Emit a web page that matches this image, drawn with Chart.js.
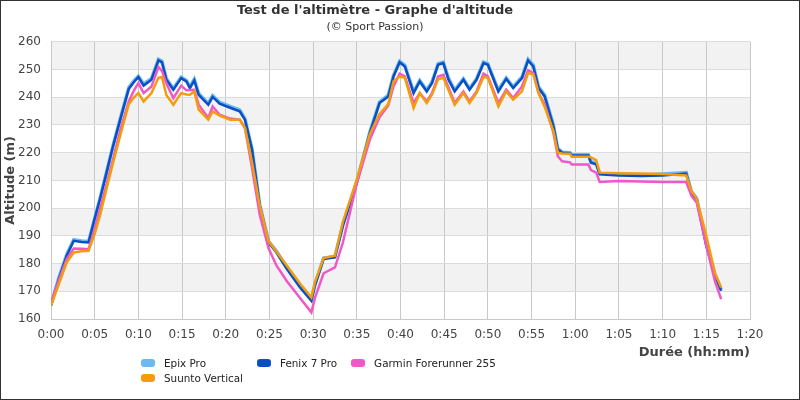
<!DOCTYPE html>
<html>
<head>
<meta charset="utf-8">
<script src="https://cdn.jsdelivr.net/npm/chart.js@4"></script>
<style>
  body { margin: 0; background: #fff; }
  #wrap { position: relative; width: 800px; height: 400px; }
  #legend {
    position: absolute; left: 141px; top: 356px;
    display: grid; grid-template-columns: repeat(3, auto); justify-content: start;
    column-gap: 14px; row-gap: 1px;
    font: 10.4px "DejaVu Sans", sans-serif; color: #222;
  }
  .item { display: flex; align-items: center; height: 14px; white-space: nowrap; }
  .box { width: 14px; height: 8px; border-radius: 3px; margin-right: 9px; }
</style>
</head>
<body>
<div id="wrap">
  <canvas id="myChart" width="800" height="400"></canvas>
  <div id="legend"></div>
</div>
<script>
// time in minutes
const times = [0, 0.9, 1.8, 2.6, 3.5, 4.3, 5.0, 5.6, 6.3, 7.1, 8.0, 8.9, 9.5, 10.0, 10.6, 11.5, 12.3, 12.7, 13.2, 14.0,
  14.9, 15.5, 15.9, 16.4, 16.9, 18.0, 18.5, 19.3, 20.5, 21.6, 22.2, 23.0, 23.9, 24.9, 25.8, 27.0, 28.5, 29.8, 30.2, 31.2,
  32.5, 33.4, 35.0, 36.5, 37.6, 38.6, 39.2, 39.9, 40.5, 41.5, 42.2, 43.0, 43.6, 44.3, 44.9, 45.5, 46.2, 47.2, 47.9, 48.7,
  49.5, 50.0, 51.2, 52.1, 52.9, 53.9, 54.6, 55.2, 55.8, 56.5, 57.5, 58.0, 58.5, 59.4, 59.6, 61.5, 61.8, 62.4, 62.8, 65.0,
  67.5, 70.0, 72.7, 73.3, 73.9, 75.0, 76.0, 76.7];

const epixPro = [165.2, 175.0, 183.3, 188.6, 188.2, 188.0, 196.3, 203.5, 212.4, 222.6, 233.2, 243.5, 246.0, 247.6, 244.8, 246.8, 253.7, 253.0, 246.8, 243.2,
  247.3, 246.1, 243.8, 246.5, 241.4, 237.8, 240.6, 238.2, 236.7, 235.4, 232.3, 221.5, 201.2, 188.0, 184.5, 178.6, 172.0, 167.0, 172.5, 182.0,
  182.6, 194.0, 209.6, 227.6, 238.3, 240.8, 247.9, 253.0, 251.5, 242.0, 246.1, 242.6, 245.5, 252.1, 252.7, 246.8, 242.6, 246.7, 243.2, 246.7,
  252.7, 252.1, 242.6, 247.0, 243.8, 247.3, 253.7, 251.6, 243.8, 240.8, 230.0, 221.6, 220.2, 220.0, 219.3, 219.3, 216.8, 216.2, 212.5, 212.2,
  212.0, 212.3, 212.8, 206.0, 203.6, 186.8, 176.0, 170.6];

const fenix7Pro = [164.8, 174.5, 182.8, 188.2, 187.8, 187.6, 196.2, 203.2, 212.0, 222.3, 232.8, 243.0, 245.5, 247.3, 244.2, 246.3, 253.3, 252.6, 246.3, 242.7,
  246.9, 245.7, 243.3, 246.1, 240.9, 237.3, 240.1, 237.7, 236.2, 234.9, 231.9, 221.2, 200.8, 187.6, 184.0, 178.0, 171.4, 166.6, 172.0, 181.6,
  182.2, 193.6, 209.2, 227.2, 237.9, 240.3, 247.5, 252.6, 251.1, 241.5, 245.7, 242.1, 245.1, 251.7, 252.3, 246.3, 242.1, 246.3, 242.7, 246.3,
  252.3, 251.7, 242.1, 246.6, 243.3, 246.9, 253.3, 251.1, 243.3, 240.3, 229.5, 221.2, 220.0, 219.8, 219.0, 219.0, 216.4, 215.8, 212.2, 211.8,
  211.6, 211.8, 212.5, 205.6, 203.2, 186.4, 175.6, 170.2];

const forerunner255 = [166.0, 174.0, 181.6, 185.4, 185.3, 185.2, 192.4, 199.6, 207.9, 217.6, 229.0, 238.5, 242.5, 245.1, 241.5, 243.9, 250.9, 249.5, 245.0, 239.7,
  244.2, 242.5, 242.6, 242.7, 237.3, 232.5, 236.7, 233.7, 232.3, 231.9, 228.9, 214.6, 197.4, 185.5, 179.3, 173.6, 167.6, 162.4, 167.5, 176.5,
  178.6, 187.5, 208.9, 224.8, 232.8, 237.0, 243.9, 248.5, 247.5, 237.9, 241.5, 238.5, 241.5, 247.5, 248.1, 243.5, 237.9, 242.1, 238.5, 242.1,
  248.5, 247.5, 237.9, 242.7, 239.7, 243.9, 249.7, 248.7, 241.5, 237.5, 227.2, 218.7, 216.9, 216.5, 215.7, 215.7, 213.7, 212.8, 209.4, 209.8,
  209.6, 209.4, 209.4, 204.4, 202.0, 186.4, 173.5, 167.2];

const suuntoVertical = [164.8, 172.6, 180.4, 184.0, 184.4, 184.6, 190.7, 197.3, 206.3, 216.3, 227.1, 237.5, 240.0, 241.5, 238.5, 241.5, 247.0, 247.3, 240.8, 237.3,
  241.5, 241.0, 240.9, 242.1, 235.5, 231.9, 234.9, 233.4, 231.9, 231.9, 228.9, 216.6, 200.8, 188.1, 184.3, 179.2, 172.8, 167.8, 173.2, 182.0,
  182.8, 195.0, 210.4, 226.8, 234.0, 237.5, 245.7, 247.5, 247.0, 236.1, 241.5, 237.9, 240.9, 246.5, 247.0, 242.5, 237.3, 241.5, 237.9, 241.5,
  247.3, 247.0, 236.7, 242.1, 239.1, 242.1, 248.7, 248.3, 241.5, 236.5, 227.8, 220.0, 219.7, 219.6, 218.5, 218.5, 218.3, 217.3, 212.8, 212.6,
  212.5, 212.3, 211.8, 206.2, 203.5, 190.0, 176.5, 171.4];

const seriesNames = ['Epix Pro', 'Fenix 7 Pro', 'Garmin Forerunner 255', 'Suunto Vertical'];
const seriesColors = ['#6cb8f2', '#0a50c2', '#f257c8', '#f29e0c'];

const yTicks = [160, 170, 180, 190, 200, 210, 220, 230, 240, 250, 260];
const bandColor = '#f2f2f2';

function toPoints(vals) {
  return times.map((t, i) => ({ x: t, y: vals[i] }));
}

// gray bands every other 10 m + frame round the canvas
const bandsPlugin = {
  id: 'bands',
  beforeDraw(chart) {
    const { ctx, chartArea: a, scales: { y } } = chart;
    ctx.save();
    ctx.fillStyle = bandColor;
    for (let i = 1; i < yTicks.length; i += 2) {
      const top = y.getPixelForValue(yTicks[i] + 10);
      const bot = y.getPixelForValue(yTicks[i]);
      ctx.fillRect(a.left, top, a.right - a.left, bot - top);
    }
    ctx.restore();
  },
  afterDraw(chart) {
    const ctx = chart.ctx;
    ctx.save();
    ctx.strokeStyle = '#333';
    ctx.lineWidth = 1;
    ctx.strokeRect(0.5, 0.5, chart.width - 1, chart.height - 1);
    ctx.restore();
  }
};

const fontFamily = '"DejaVu Sans", sans-serif';
const allData = [epixPro, fenix7Pro, forerunner255, suuntoVertical];
const drawOrder = [3, 2, 1, 0];
const widths = [3.4, 2.5, 2.5, 2.5];

const data = {
  datasets: allData.map((vals, i) => ({
    label: seriesNames[i],
    data: toPoints(vals),
    borderColor: seriesColors[i],
    backgroundColor: seriesColors[i],
    borderWidth: widths[i],
    pointRadius: 0,
    tension: 0,
    order: drawOrder[i]
  }))
};

const config = {
  type: 'line',
  data,
  options: {
    responsive: false,
    animation: false,
    layout: { padding: { left: 0, right: 50, bottom: 40 } },
    plugins: {
      legend: { display: false },
      tooltip: { enabled: false },
      title: {
        display: true,
        text: "Test de l'altimètre - Graphe d'altitude",
        color: '#333',
        font: { family: fontFamily, size: 13, weight: 'bold' },
        padding: { top: 3, bottom: 2 }
      },
      subtitle: {
        display: true,
        text: '(© Sport Passion)',
        color: '#333',
        font: { family: fontFamily, size: 11 },
        padding: { bottom: 8 }
      }
    },
    scales: {
      x: {
        type: 'linear',
        min: 0,
        max: 80,
        ticks: {
          stepSize: 5,
          color: '#444',
          font: { family: fontFamily, size: 12 },
          padding: 9,
          callback: v => Math.floor(v / 60) + ':' + String(v % 60).padStart(2, '0')
        },
        grid: { color: '#c8c8c8', drawTicks: false },
        border: { color: '#c8c8c8' },
        title: {
          display: true,
          text: 'Durée (hh:mm)',
          align: 'end',
          color: '#444',
          font: { family: fontFamily, size: 13, weight: 'bold' },
          padding: { top: -7, bottom: 0 }
        }
      },
      y: {
        min: 160,
        max: 260,
        afterFit(scale) { scale.width = 51; },
        ticks: {
          stepSize: 10,
          color: '#444',
          font: { family: fontFamily, size: 12 },
          padding: 10
        },
        grid: { color: '#dcdcdc', drawTicks: false },
        border: { color: '#c8c8c8' },
        title: {
          display: true,
          text: 'Altitude (m)',
          color: '#444',
          font: { family: fontFamily, size: 13, weight: 'bold' },
          padding: { top: 3, bottom: 0 }
        }
      }
    }
  },
  plugins: [bandsPlugin]
};

const myChart = new Chart(document.getElementById('myChart'), config);

// legend in three columns, like the original
const legend = document.getElementById('legend');
const legendOrder = [0, 1, 2, 3];
legendOrder.forEach(i => {
  const item = document.createElement('div');
  item.className = 'item';
  item.innerHTML = '<span class="box" style="background:' + seriesColors[i] + '"></span>' + seriesNames[i];
  legend.appendChild(item);
});
</script>
</body>
</html>
